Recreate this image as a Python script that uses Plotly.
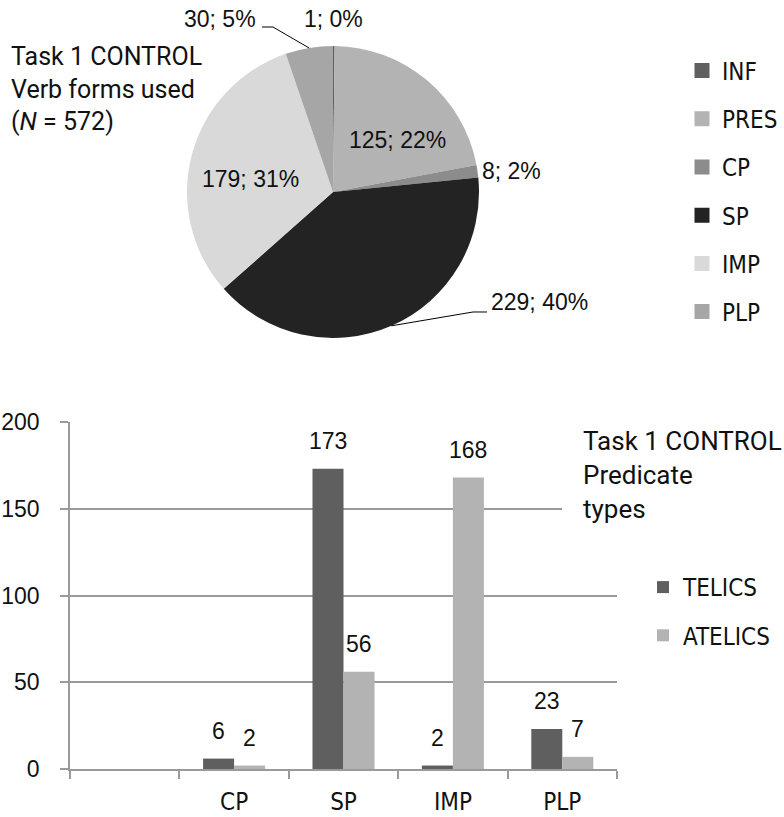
import math
import plotly.graph_objects as go

# ---------------- data ----------------
verb_forms = ["INF", "PRES", "CP", "SP", "IMP", "PLP"]
verb_counts = [1, 125, 8, 229, 179, 30]
verb_pct_labels = ["0%", "22%", "2%", "40%", "31%", "5%"]

pred_categories = [" ", "CP", "SP", "IMP", "PLP"]
telics = [None, 6, 173, 2, 23]
atelics = [None, 2, 56, 168, 7]
y_ticks = [0, 50, 100, 150, 200]

pie_title = ["Task 1 CONTROL", "Verb forms used", "(<i>N</i> = 572)"]
bar_title = ["Task 1 CONTROL", "Predicate", "types"]

# ---------------- styling helpers ----------------
W, H = 784, 817
def px(x):
    return x / W
def py(y):
    return 1 - y / H

NARROW = "Liberation Sans Narrow, Arial Narrow, DejaVu Sans Condensed, sans-serif"
SANS = "Liberation Sans, Arial, sans-serif"
TITLE = "Roboto, Liberation Sans, sans-serif"
TXT = "#111111"
GRID = "#9a9a9a"

pie_colors = ["#606060", "#b3b3b3", "#8c8c8c", "#232323", "#d9d9d9", "#a6a6a6"]
telic_color = "#5f5f5f"
atelic_color = "#b3b3b3"

fig = go.Figure()

# ---------------- pie ----------------
cx, cy, R = 333, 192, 146
fig.add_trace(go.Pie(
    labels=verb_forms, values=verb_counts, sort=False,
    direction="clockwise", rotation=0,
    marker=dict(colors=pie_colors, line=dict(width=0)),
    textinfo="none", showlegend=False, hoverinfo="label+value+percent",
    domain=dict(x=[px(cx - R), px(cx + R)], y=[py(cy + R), py(cy - R)]),
))

# legend entries for the pie (one per verb form)
for name, col in zip(verb_forms, pie_colors):
    fig.add_trace(go.Scatter(
        x=[None], y=[None], mode="markers", name=name,
        marker=dict(symbol="square", size=15, color=col, line=dict(width=0)),
        legend="legend2", legendgroup=name, hoverinfo="skip",
    ))

# pie labels
total = sum(verb_counts)
mids = []
acc = 0
for v in verb_counts:
    mids.append((acc + v / 2) / total * 2 * math.pi)
    acc += v

def edge(i):
    a = mids[i]
    return cx + R * math.sin(a), cy - R * math.cos(a)

label_pos = {  # pixel centres of the slice labels
    0: (333, 19), 1: (397, 140), 2: (511, 171),
    3: (539, 302), 4: (250, 179), 5: (220, 19),
}
for i, (n, p) in enumerate(zip(verb_counts, verb_pct_labels)):
    lx, ly = label_pos[i]
    fig.add_annotation(
        x=px(lx), y=py(ly), xref="paper", yref="paper",
        text=f"{n}; {p}", showarrow=False, xanchor="center", yanchor="middle",
        font=dict(family=SANS, size=23, color=TXT),
    )

# leader lines for PLP and SP labels
def path(points):
    return "M " + " L ".join(f"{px(x):.5f},{py(y):.5f}" for x, y in points)

ex, ey = edge(5)
fig.add_shape(type="path", xref="paper", yref="paper",
              path=path([(262, 27), (273, 27), (ex, ey)]),
              line=dict(color="#000000", width=1))
ex, ey = edge(3)
fig.add_shape(type="path", xref="paper", yref="paper",
              path=path([(487, 312), (473, 312), (ex, ey)]),
              line=dict(color="#000000", width=1))

# pie title
fig.add_annotation(
    x=px(9), y=py(88.5), xref="paper", yref="paper", text="<br>".join(pie_title),
    showarrow=False, xanchor="left", yanchor="middle", align="left",
    font=dict(family=TITLE, size=25, color=TXT),
)

# ---------------- bars ----------------
bargap = 0.433
fig.add_trace(go.Bar(x=pred_categories, y=telics, name="TELICS",
                     marker=dict(color=telic_color, line=dict(width=0)),
                     legendgroup="t", hoverinfo="x+y+name"))
fig.add_trace(go.Bar(x=pred_categories, y=atelics, name="ATELICS",
                     marker=dict(color=atelic_color, line=dict(width=0)),
                     legendgroup="a", hoverinfo="x+y+name"))

x0p, x1p = 70, 617
cat_w = (x1p - x0p) / len(pred_categories)
half = cat_w * (1 - bargap) / 4
for vals, sign in ((telics, -1), (atelics, 1)):
    for c, v in zip(pred_categories, vals):
        if v is None:
            continue
        fig.add_annotation(
            x=c, y=v, xref="x", yref="y", text=str(v), showarrow=False,
            xshift=sign * half, yshift=13, xanchor="center", yanchor="bottom",
            font=dict(family=SANS, size=23, color=TXT),
        )

# white box behind the bar-chart title (hides gridlines there)
fig.add_shape(type="rect", xref="paper", yref="paper",
              x0=px(562), x1=px(784), y0=py(528), y1=py(414),
              fillcolor="white", line=dict(width=0), layer="above")
fig.add_annotation(
    x=px(581), y=py(474.5), xref="paper", yref="paper", text="<br>".join(bar_title),
    showarrow=False, xanchor="left", yanchor="middle", align="left",
    font=dict(family=TITLE, size=26, color=TXT),
)

fig.update_layout(
    width=W, height=H, margin=dict(l=0, r=0, t=0, b=0, autoexpand=False),
    paper_bgcolor="white", plot_bgcolor="white",
    barmode="group", bargap=bargap, bargroupgap=0,
    showlegend=True,
    xaxis=dict(
        domain=[px(x0p), px(x1p)], type="category",
        categoryorder="array", categoryarray=pred_categories,
        range=[-0.5, len(pred_categories) - 0.5],
        showline=True, linecolor=GRID, linewidth=1.5,
        ticks="outside", tickson="boundaries", ticklen=8, tickwidth=1.5,
        tickcolor=GRID, showgrid=False, zeroline=False,
        tickfont=dict(family=NARROW, size=24, color=TXT),
        ticklabelstandoff=10, fixedrange=True, automargin=False,
    ),
    yaxis=dict(
        domain=[py(769), py(422)], range=[0, 200], tickvals=y_ticks,
        showline=True, linecolor=GRID, linewidth=1.5,
        ticks="outside", ticklen=8, tickwidth=1.5, tickcolor=GRID,
        showgrid=True, gridcolor=GRID, gridwidth=1.5, zeroline=False,
        tickfont=dict(family=SANS, size=23, color=TXT),
        ticklabelstandoff=16, fixedrange=True, automargin=False,
    ),
    legend=dict(
        x=px(643), y=py(565), xanchor="left", yanchor="top",
        font=dict(family=NARROW, size=24, color=TXT),
        tracegroupgap=14, bgcolor="rgba(0,0,0,0)",
    ),
    legend2=dict(
        x=px(682), y=py(48.5), xanchor="left", yanchor="top",
        font=dict(family=NARROW, size=24, color=TXT),
        tracegroupgap=14, bgcolor="rgba(0,0,0,0)",
    ),
)

fig.write_html("out.html", config={"displayModeBar": False},
               post_script="document.body.style.margin='0';")
